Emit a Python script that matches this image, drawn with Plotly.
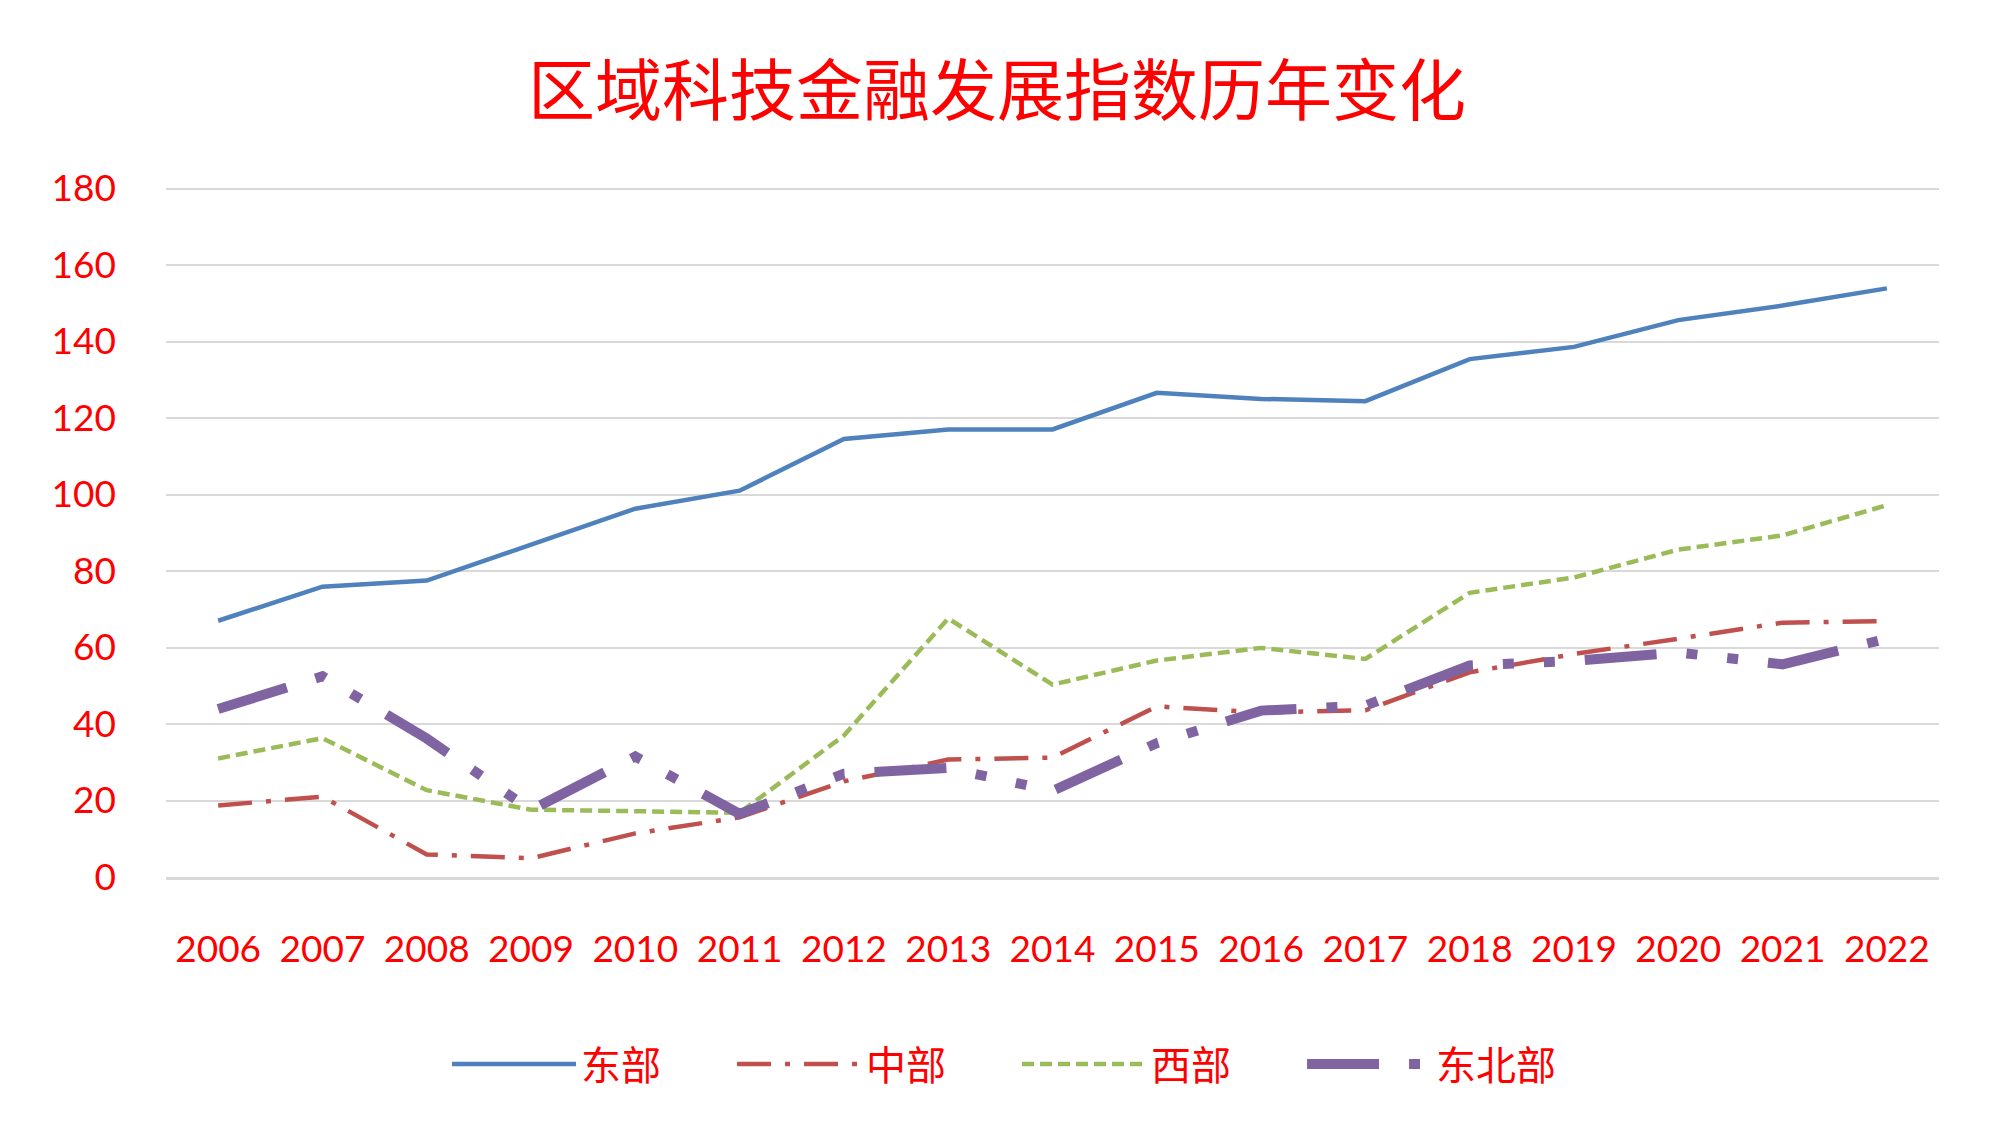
import plotly.graph_objects as go

years = [str(y) for y in range(2006, 2023)]
east = [67.0, 75.9, 77.5, 87.0, 96.3, 101.0, 114.5, 117.0, 117.0, 126.6, 125.0, 124.4, 135.4, 138.6, 145.6, 149.4, 153.9]
central = [18.7, 21.0, 5.9, 4.9, 11.4, 15.6, 25.0, 30.7, 31.2, 44.6, 43.0, 43.6, 53.5, 58.3, 62.3, 66.5, 66.9]
west = [31.0, 36.3, 22.7, 17.6, 17.2, 16.8, 37.0, 67.6, 50.3, 56.6, 59.9, 57.0, 74.3, 78.3, 85.6, 89.3, 97.2]
northeast = [43.9, 52.5, 36.2, 17.5, 31.5, 16.5, 27.0, 28.5, 22.5, 35.0, 43.5, 44.8, 55.3, 56.5, 58.7, 55.6, 62.3]

names = ["东部", "中部", "西部", "东北部"]
title_text = "区域科技金融发展指数历年变化"

RED = "#FF0000"
CJK = "Noto Sans CJK SC"

fig = go.Figure()
fig.add_trace(go.Scatter(x=years, y=east, name=names[0], mode="lines",
                         line=dict(color="#4F81BD", width=4.5)))
fig.add_trace(go.Scatter(x=years, y=central, name=names[1], mode="lines",
                         line=dict(color="#C0504D", width=4.5, dash="34px,14px,5px,14px")))
fig.add_trace(go.Scatter(x=years, y=west, name=names[2], mode="lines",
                         line=dict(color="#9BBB59", width=4.5, dash="12px,6px")))
fig.add_trace(go.Scatter(x=years, y=northeast, name=names[3], mode="lines",
                         line=dict(color="#8064A2", width=10,
                                   dash="72px,30px,11px,30px,11px,30px")))

fig.update_layout(
    width=2000, height=1143,
    paper_bgcolor="white", plot_bgcolor="white",
    margin=dict(l=158, r=69, t=179, b=274),
    title=dict(text=title_text, x=0.4945, xanchor="center", xref="container",
               y=1 - 84 / 1143, yref="container", yanchor="middle",
               font=dict(family=CJK, size=67, color=RED)),
    legend=dict(orientation="h", x=0.48, xanchor="center", y=-0.271, yanchor="middle",
                font=dict(family=CJK, size=40, color=RED),
                itemwidth=124, entrywidth=146, entrywidthmode="pixels",
                bgcolor="rgba(0,0,0,0)"),
    showlegend=True,
)
fig.update_xaxes(type="category", range=[-0.5, 16.5], showgrid=False, showline=True,
                 linecolor="#D9D9D9", linewidth=3, ticks="", ticklabelstandoff=38,
                 tickfont=dict(family="Lato", size=37, color=RED))
fig.update_yaxes(range=[0, 180.4], tickvals=[0, 20, 40, 60, 80, 100, 120, 140, 160, 180],
                 showgrid=True, gridcolor="#D9D9D9", gridwidth=2,
                 zeroline=False, showline=False, ticks="", ticklabelstandoff=49,
                 tickfont=dict(family="Lato", size=37, color=RED))

fig.write_html("out.html")
